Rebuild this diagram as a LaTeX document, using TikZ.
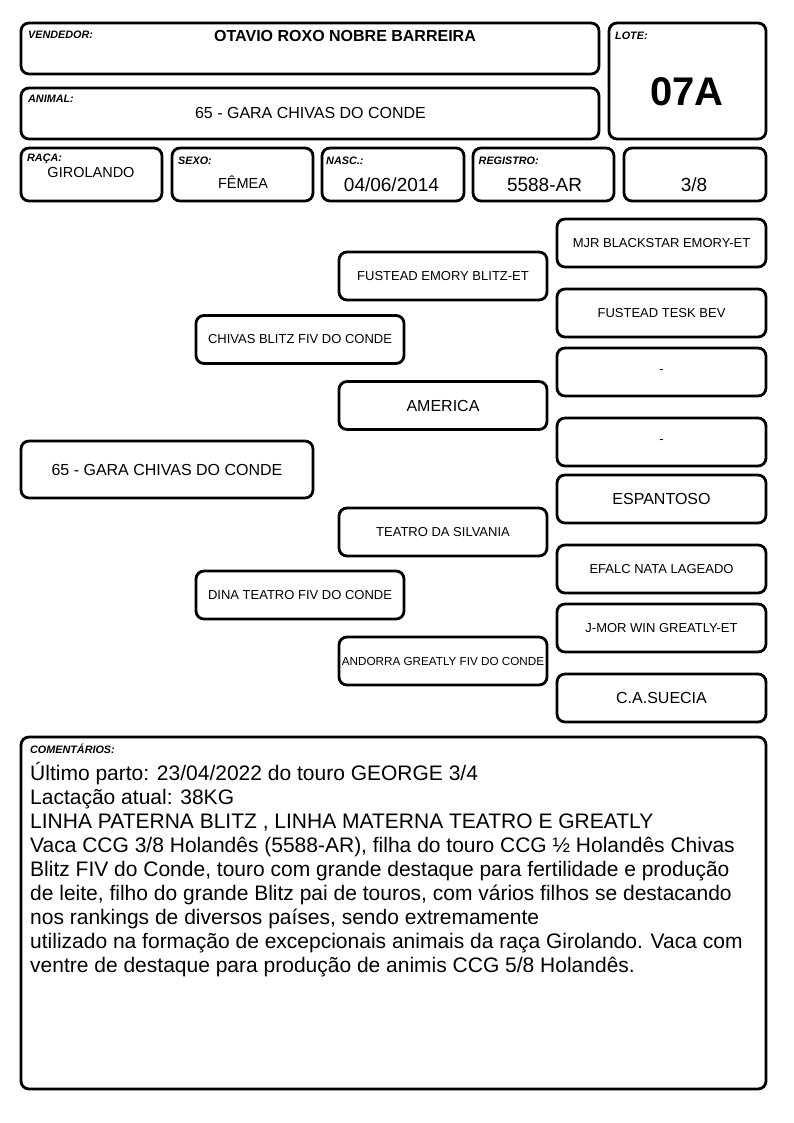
\documentclass[tikz,border=0pt]{standalone}
\usepackage{fontspec}
\setmainfont{Liberation Sans}
\usetikzlibrary{positioning}
\tikzset{
 frame/.style={draw,line width=2.8pt,rounded corners=8pt,inner sep=0pt},
 tag/.style={anchor=base west,inner sep=0pt,font=\fontsize{10.8}{13}\selectfont\bfseries\itshape},
 info/.style={anchor=base,inner sep=0pt,font=\fontsize{19}{23}\selectfont},
 pedbox/.style={frame,minimum width=208pt,minimum height=48pt,font=\fontsize{13}{16}\selectfont},
 anc/.style={pedbox,minimum width=209pt},
}

\begin{document}
\begin{tikzpicture}[x=1pt,y=-1pt]
\useasboundingbox (0,0) rectangle (794,1123);
\node[frame,minimum width=578pt,minimum height=51pt] (vend) at (310,48.5) {};
\node[tag] (vendtag) at (28,39) {VENDEDOR:};
\node[info,font=\fontsize{16}{19}\selectfont\bfseries] (vendname) at (345,42) {OTAVIO ROXO NOBRE BARREIRA};
\node[frame,minimum width=578pt,minimum height=51pt] (anim) at (310,113.5) {};
\node[tag] (animtag) at (28,103) {ANIMAL:};
\node[info,font=\fontsize{16}{19}\selectfont] (animname) at (310.5,119) {65 - GARA CHIVAS DO CONDE};
\node[frame,minimum width=157pt,minimum height=116pt] (lote) at (687.5,81) {};
\node[tag] (lotetag) at (615,40) {LOTE:};
\node[info,font=\fontsize{40}{46}\selectfont\bfseries] (loteval) at (687,105.5) {07A};
\node[frame,minimum width=141pt,minimum height=53pt] (raca) at (91.5,174.5) {};
\node[tag] (racatag) at (27,162) {RAÇA:};
\node[info,font=\fontsize{14.5}{17}\selectfont] (racaval) at (91,177.5) {GIROLANDO};
\node[frame,minimum width=141pt,minimum height=53pt] (sexo) at (242.5,174.5) {};
\node[tag] (sexotag) at (178,165) {SEXO:};
\node[info,font=\fontsize{14.5}{17}\selectfont] (sexoval) at (243,189) {FÊMEA};
\node[frame,minimum width=142pt,minimum height=53pt] (nasc) at (393,174.5) {};
\node[tag] (nasctag) at (326,165) {NASC.:};
\node[info] (nascval) at (391.5,191.5) {04/06/2014};
\node[frame,minimum width=141pt,minimum height=53pt] (reg) at (543.5,174.5) {};
\node[tag] (regtag) at (478.5,165) {REGISTRO:};
\node[info] (regval) at (544.5,191.5) {5588-AR};
\node[frame,minimum width=142pt,minimum height=53pt] (grau) at (695,174.5) {};
\node[info] (grauval) at (694,191.5) {3/8};

\node[pedbox,minimum width=292pt,minimum height=57pt,font=\fontsize{16}{19}\selectfont] (self) at (167,469.5) {65 - GARA CHIVAS DO CONDE};
\node[pedbox] (sire) at (300,339.5) {CHIVAS BLITZ FIV DO CONDE};
\node[pedbox] (dam) at (300,595) {DINA TEATRO FIV DO CONDE};
\node[pedbox] (sire-sire) at (443,276) {FUSTEAD EMORY BLITZ-ET};
\node[pedbox,font=\fontsize{16}{19}\selectfont] (sire-dam) at (443,405.5) {AMERICA};
\node[pedbox] (dam-sire) at (443,532) {TEATRO DA SILVANIA};
\node[pedbox,font=\fontsize{11.7}{14}\selectfont] (dam-dam) at (443,661) {ANDORRA GREATLY FIV DO CONDE};
\node[anc] (ss-sire) at (661.5,243) {MJR BLACKSTAR EMORY-ET};
\node[anc] (ss-dam) at (661.5,313) {FUSTEAD TESK BEV};
\node[anc] (sd-sire) at (661.5,372) {-};
\node[anc] (sd-dam) at (661.5,442) {-};
\node[anc,font=\fontsize{16}{19}\selectfont] (ds-sire) at (661.5,499) {ESPANTOSO};
\node[anc] (ds-dam) at (661.5,569) {EFALC NATA LAGEADO};
\node[anc] (dd-sire) at (661.5,628) {J-MOR WIN GREATLY-ET};
\node[anc,font=\fontsize{16}{19}\selectfont] (dd-dam) at (661.5,698) {C.A.SUECIA};

\node[frame,minimum width=745pt,minimum height=352pt] (obs) at (393.5,913) {};
\node[tag] (obstag) at (30,753) {COMENTÁRIOS:};
\node[anchor=base west,inner sep=0pt,align=left,font=\fontsize{21}{24}\selectfont] (obstext) at (30,972) {Último parto: 23/04/2022 do touro GEORGE 3/4\\
Lactação atual: 38KG\\
LINHA PATERNA BLITZ , LINHA MATERNA TEATRO E GREATLY\\
Vaca CCG 3/8 Holandês (5588-AR), filha do touro CCG ½ Holandês Chivas\\
Blitz FIV do Conde, touro com grande destaque para fertilidade e produção\\
de leite, filho do grande Blitz pai de touros, com vários filhos se destacando\\
nos rankings de diversos países, sendo extremamente\\
utilizado na formação de excepcionais animais da raça Girolando. Vaca com\\
ventre de destaque para produção de animis CCG 5/8 Holandês.};
\end{tikzpicture}
\end{document}
